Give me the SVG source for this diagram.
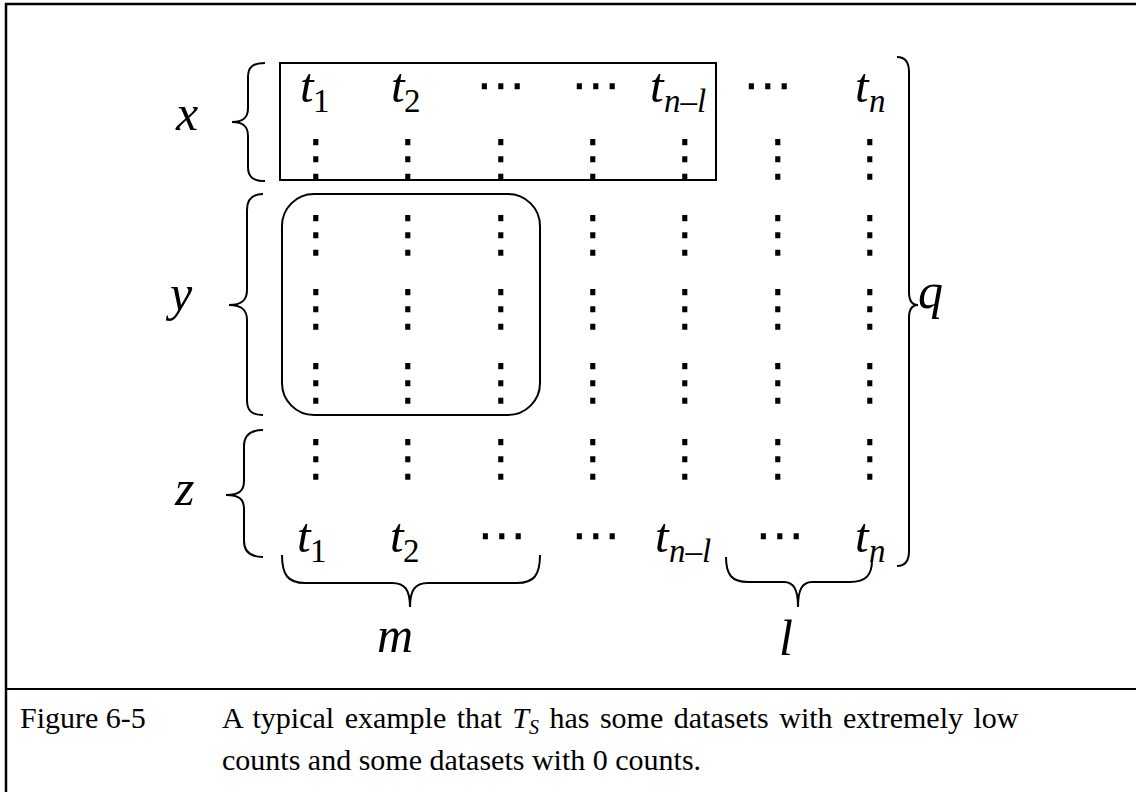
<svg xmlns="http://www.w3.org/2000/svg" width="1136" height="792" viewBox="0 0 1136 792">
<style>
.m{font-family:"Liberation Serif","Times New Roman",serif;font-style:italic;font-size:49px;fill:#000}
.sub{font-size:33px}
.up{font-style:normal}
.lab{font-family:"Liberation Serif","Times New Roman",serif;font-style:italic;font-size:50px;fill:#000}
.el{font-family:"DejaVu Sans",sans-serif;font-size:50px;fill:#000;text-anchor:middle}
.br{fill:none;stroke:#000;stroke-width:2}
.cap{font-family:"Liberation Serif","Times New Roman",serif;font-size:30px;fill:#000}
</style>
<rect width="1136" height="792" fill="#fff"/>
<g id="frame" fill="none" stroke="#000">
<path d="M6,792 V4 H1136" stroke-width="2.5"/>
<line x1="6" y1="689" x2="1136" y2="689" stroke-width="2"/>
</g>
<g id="group-x">
<rect x="280" y="63" width="436" height="117" fill="none" stroke="#000" stroke-width="2"/>
</g>
<g id="group-y">
<rect x="282" y="194" width="258" height="221" rx="32" ry="32" fill="none" stroke="#000" stroke-width="2"/>
</g>
<g id="row-top">
<text class="m" x="300" y="102">t<tspan class="sub up" x="313" y="112">1</tspan></text>
<text class="m" x="391" y="102">t<tspan class="sub up" x="404" y="112">2</tspan></text>
<text class="el" x="501" y="102">⋯</text>
<text class="el" x="596" y="102">⋯</text>
<text class="m" x="650" y="102">t<tspan class="sub" x="664" y="112">n–l</tspan></text>
<text class="el" x="768" y="102">⋯</text>
<text class="m" x="855" y="102">t<tspan class="sub" x="869" y="112">n</tspan></text>
</g>
<g id="row-bottom">
<text class="m" x="297" y="552">t<tspan class="sub up" x="310" y="562">1</tspan></text>
<text class="m" x="390" y="552">t<tspan class="sub up" x="403" y="562">2</tspan></text>
<text class="el" x="502" y="552">⋯</text>
<text class="el" x="596" y="552">⋯</text>
<text class="m" x="655" y="552">t<tspan class="sub" x="669" y="562">n–l</tspan></text>
<text class="el" x="780" y="552">⋯</text>
<text class="m" x="855" y="552">t<tspan class="sub" x="869" y="562">n</tspan></text>
</g>
<g id="vdots">
<g id="vdots-x">
<text class="el" x="316" y="175">⋮</text><text class="el" x="408" y="175">⋮</text><text class="el" x="501" y="175">⋮</text><text class="el" x="593" y="175">⋮</text><text class="el" x="685" y="175">⋮</text><text class="el" x="778" y="175">⋮</text><text class="el" x="870" y="175">⋮</text>
</g>
<g id="vdots-y1">
<text class="el" x="316" y="251">⋮</text><text class="el" x="408" y="251">⋮</text><text class="el" x="501" y="251">⋮</text><text class="el" x="593" y="251">⋮</text><text class="el" x="685" y="251">⋮</text><text class="el" x="778" y="251">⋮</text><text class="el" x="870" y="251">⋮</text>
</g>
<g id="vdots-y2">
<text class="el" x="316" y="325">⋮</text><text class="el" x="408" y="325">⋮</text><text class="el" x="501" y="325">⋮</text><text class="el" x="593" y="325">⋮</text><text class="el" x="685" y="325">⋮</text><text class="el" x="778" y="325">⋮</text><text class="el" x="870" y="325">⋮</text>
</g>
<g id="vdots-y3">
<text class="el" x="316" y="399">⋮</text><text class="el" x="408" y="399">⋮</text><text class="el" x="501" y="399">⋮</text><text class="el" x="593" y="399">⋮</text><text class="el" x="685" y="399">⋮</text><text class="el" x="778" y="399">⋮</text><text class="el" x="870" y="399">⋮</text>
</g>
<g id="vdots-z">
<text class="el" x="316" y="475">⋮</text><text class="el" x="408" y="475">⋮</text><text class="el" x="501" y="475">⋮</text><text class="el" x="593" y="475">⋮</text><text class="el" x="685" y="475">⋮</text><text class="el" x="778" y="475">⋮</text><text class="el" x="870" y="475">⋮</text>
</g>
</g>
<g id="braces">
<path class="br" d="M265,63 C253,63 248,67 248,77 L248,108 C248,118 243,122 232,122 C243,122 248,126 248,136 L248,167 C248,177 253,181 265,181"/>
<path class="br" d="M263,194 C252,194 247,199 247,210 L247,290 C247,300 242,305 229,305 C242,305 247,310 247,320 L247,400 C247,411 252,415 263,415"/>
<path class="br" d="M263,430 C250,430 244,435 244,446 L244,481 C244,491 239,495 226,495 C239,495 244,499 244,509 L244,541 C244,552 250,557 263,557"/>
<path class="br" d="M897,57 C905,57 909,62 909,72 L909,292 C909,301 912,305 918,305 C912,305 909,309 909,318 L909,551 C909,561 905,566 897,566"/>
<path class="br" d="M282,555 C282,575 288,583 305,583 L392,583 C405,583 410,590 410,607 C410,590 415,583 428,583 L517,583 C534,583 540,575 540,555"/>
<path class="br" d="M726,557 C726,575 732,582 748,582 L784,582 C794,582 798,590 798,607 C798,590 802,582 812,582 L850,582 C866,582 872,575 872,560"/>
</g>
<g id="labels">
<text class="lab" x="176" y="130">x</text>
<text class="lab" x="170" y="310">y</text>
<text class="lab" x="175" y="505">z</text>
<text class="lab" x="918" y="308">q</text>
<text class="lab" x="377" y="652">m</text>
<text class="lab" x="779" y="655" font-size="64">l</text>
</g>
<g id="caption">
<text class="cap" x="20" y="728">Figure 6-5</text>
<text class="cap" x="222" y="728" word-spacing="3">A typical example that <tspan font-style="italic">T</tspan><tspan font-style="italic" font-size="20" dy="6">S</tspan><tspan dy="-6"> has some datasets with extremely low</tspan></text>
<text class="cap" x="222" y="770">counts and some datasets with 0 counts.</text>
</g>
</svg>
